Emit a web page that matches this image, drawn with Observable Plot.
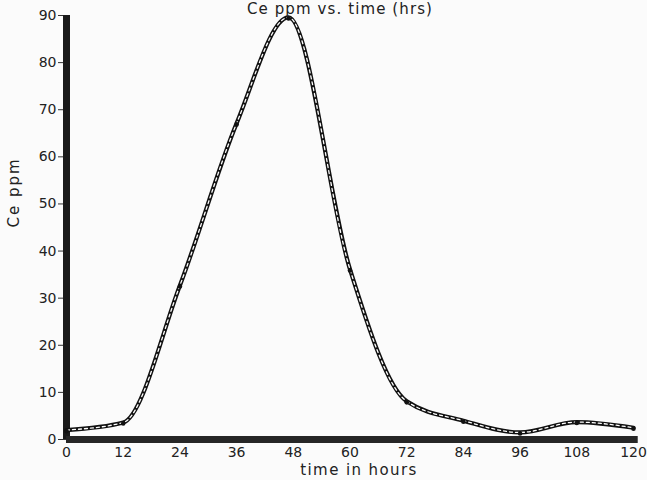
<!DOCTYPE html>
<html>
<head>
<meta charset="utf-8">
<script src="https://cdn.jsdelivr.net/npm/d3@7"></script>
<script src="https://cdn.jsdelivr.net/npm/@observablehq/plot@0.6"></script>
<style>
  html, body { margin: 0; padding: 0; background: #fbfbfb; }
  svg { display: block; }
  .ttl text { letter-spacing: 1.1px; }
  .xl text { letter-spacing: 1.4px; }
  .yl text { letter-spacing: 2px; }
</style>
</head>
<body>
<div id="chart"></div>
<script>
// Data
const hours = [0, 12, 24, 36, 47, 60, 72, 84, 96, 108, 120];
const cePpm = [2, 3.6, 32.7, 67.1, 89.6, 36.1, 8.1, 4.0, 1.5, 3.7, 2.5];
const xTicks = [0, 12, 24, 36, 48, 60, 72, 84, 96, 108, 120];
const yTicks = [0, 10, 20, 30, 40, 50, 60, 70, 80, 90];
const titleText = "Ce ppm vs. time (hrs)";
const xLabel = "time in hours";
const yLabel = "Ce ppm";

const data = hours.map((h, i) => ({ h, v: cePpm[i] }));
const font = "DejaVu Sans, sans-serif";

const chart = Plot.plot({
  width: 647,
  height: 480,
  marginLeft: 66,
  marginRight: 14,
  marginTop: 15,
  marginBottom: 41,
  style: { background: "#fbfbfb", fontFamily: font, color: "#222" },
  x: { domain: [0, 120] },
  y: { domain: [0, 90] },
  marks: [
    Plot.axisY(yTicks, { tickSize: 8, tickPadding: 2, fontSize: 14, label: null, stroke: "#333" }),
    Plot.axisX(xTicks, { tickSize: 0, tickPadding: 8, fontSize: 14, label: null }),
    Plot.ruleX([0], { y1: 0, y2: 90, stroke: "#1a1a1a", strokeWidth: 7 }),
    Plot.ruleY([0], { x1: 0, x2: 121, stroke: "#262626", strokeWidth: 7 }),
    Plot.line(data, { x: "h", y: "v", curve: "monotone-x", stroke: "#111", strokeWidth: 4.2 }),
    Plot.line(data, { x: "h", y: "v", curve: "monotone-x", stroke: "#fff", strokeWidth: 1.3, strokeDasharray: "3,3" }),
    Plot.dot(data, { x: "h", y: "v", r: 2.3, fill: "#111", dy: 1 }),
    Plot.text([titleText], { frameAnchor: "top", dx: -10, dy: -6, lineAnchor: "middle", fontSize: 15, fill: "#222", className: "ttl" }),
    Plot.text([xLabel], { frameAnchor: "bottom", dx: 9, dy: 31, lineAnchor: "middle", fontSize: 15, fill: "#222", className: "xl" }),
    Plot.text([yLabel], { frameAnchor: "left", dx: -52, dy: 0, rotate: -90, fontSize: 15, fill: "#222", className: "yl" })
  ]
});
document.getElementById("chart").appendChild(chart);
</script>
</body>
</html>
